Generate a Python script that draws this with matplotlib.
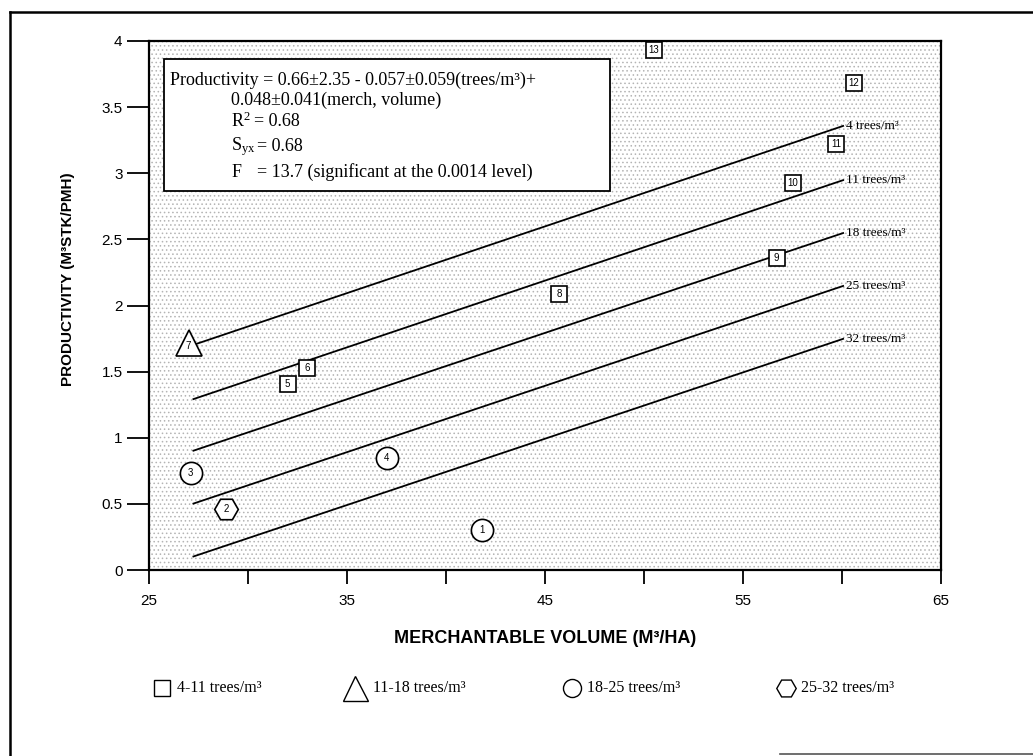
import matplotlib
matplotlib.use('Agg')
import matplotlib.pyplot as plt
from matplotlib.patches import Rectangle
from matplotlib.lines import Line2D

plt.rcParams['mathtext.fontset'] = 'custom'
plt.rcParams['mathtext.rm'] = 'Liberation Serif'
plt.rcParams['mathtext.it'] = 'Liberation Serif:italic'
plt.rcParams['hatch.linewidth'] = 0.6

# ---------------- data ----------------
point_ids = [1, 2, 3, 4, 5, 6, 7, 8, 9, 10, 11, 12, 13]
volume = [41.8, 28.9, 27.1, 37.0, 32.0, 33.0, 27.0, 45.7, 56.7, 57.5, 59.7, 60.6, 50.5]
productivity = [0.30, 0.46, 0.73, 0.85, 1.41, 1.53, 1.72, 2.09, 2.36, 2.93, 3.22, 3.68, 3.93]
density_class = ['18-25', '25-32', '18-25', '18-25', '4-11', '4-11', '11-18',
                 '4-11', '4-11', '4-11', '4-11', '4-11', '4-11']

class_names = ['4-11', '11-18', '18-25', '25-32']
class_markers = {'4-11': 's', '11-18': '^', '18-25': 'o', '25-32': 'H'}
class_sizes = {'4-11': 11, '11-18': 19, '18-25': 16, '25-32': 17}
legend_sizes = {'4-11': 12, '11-18': 18, '18-25': 13, '25-32': 14}

line_density = [4, 11, 18, 25, 32]
line_x = [27.2, 60.1]
line_start = [1.70, 1.29, 0.90, 0.50, 0.10]
line_end = [3.36, 2.95, 2.55, 2.15, 1.75]

x_ticks = [25, 30, 35, 40, 45, 50, 55, 60, 65]
x_ticklabels = ['25', '', '35', '', '45', '', '55', '', '65']
y_ticks = [0, 0.5, 1, 1.5, 2, 2.5, 3, 3.5, 4]
y_ticklabels = ['0', '0.5', '1', '1.5', '2', '2.5', '3', '3.5', '4']

# ---------------- figure ----------------
W, H = 1033, 756
fig = plt.figure(figsize=(W / 100, H / 100), dpi=100)
L, R, T, B = 149, 941, 41, 570
ax = fig.add_axes([L / W, 1 - B / H, (R - L) / W, (B - T) / H])

ax.set_xlim(25, 65)
ax.set_ylim(0, 4)

# stippled background
ax.set_facecolor('white')
ax.add_patch(Rectangle((0, 0), 1, 1, transform=ax.transAxes, fill=False,
                       hatch='....', edgecolor='#b4b4b4', linewidth=0, zorder=0))

# regression lines
for d, y0, y1 in zip(line_density, line_start, line_end):
    ax.plot(line_x, [y0, y1], color='black', lw=1.3, zorder=2, solid_capstyle='butt')
    ax.text(line_x[1] + 0.1, y1, f'{d} trees/m³', fontsize=9.5,
            family='Liberation Serif', ha='left', va='center', zorder=5)

# points
for pid, v, p, c in zip(point_ids, volume, productivity, density_class):
    ax.plot([v], [p], marker=class_markers[c], ms=class_sizes[c],
            mfc='white', mec='black', mew=1.2, ls='none', zorder=4, clip_on=False)
    dy = -0.03 if c == '11-18' else 0
    ax.text(v, p + dy, str(pid), fontsize=7, family='Liberation Sans',
            ha='center', va='center', zorder=6)

# equation box
ax.add_patch(Rectangle((0.019, 0.716), 0.563, 0.25, transform=ax.transAxes,
                       facecolor='white', edgecolor='black', lw=1.3, zorder=7))
tf = dict(fontsize=13, family='Liberation Serif', transform=ax.transAxes,
          va='center', ha='left', zorder=8)
ax.text(0.026, 0.925, 'Productivity = 0.66±2.35 - 0.057±0.059(trees/m³)+', **tf)
ax.text(0.103, 0.888, '0.048±0.041(merch, volume)', **tf)
ax.text(0.104, 0.848, r'R$^2$', **tf)
ax.text(0.132, 0.848, '= 0.68', **tf)
ax.text(0.104, 0.800, r'S$_{\mathrm{yx}}$', **tf)
ax.text(0.136, 0.800, '= 0.68', **tf)
ax.text(0.104, 0.752, 'F', **tf)
ax.text(0.136, 0.752, '= 13.7 (significant at the 0.0014 level)', **tf)

# axes styling
for s in ax.spines.values():
    s.set_linewidth(1.6)
ax.set_xticks(x_ticks)
ax.set_xticklabels(x_ticklabels)
ax.set_yticks(y_ticks)
ax.set_yticklabels(y_ticklabels)
ax.tick_params(axis='x', direction='out', length=10, width=1.3, pad=7,
               labelsize=11)
ax.tick_params(axis='y', direction='out', length=16, width=1.3, pad=3,
               labelsize=11)
for lab in ax.get_xticklabels() + ax.get_yticklabels():
    lab.set_family('Liberation Sans')

ax.set_xlabel('MERCHANTABLE VOLUME (M³/HA)', fontsize=13, fontweight='bold',
              family='Liberation Sans', labelpad=16)
ylab = ax.set_ylabel('PRODUCTIVITY (M³STK/PMH)', fontsize=11, fontweight='bold',
                     family='Liberation Sans')
ylab.set_va('center')
ax.yaxis.set_label_coords(-0.102, 0.55)

# legend (manual row)
leg_y = 1 - 688 / H
leg_marker_x = [162, 355, 572, 786]
leg_text_x = [177, 373, 587, 801]
for c, mx, tx in zip(class_names, leg_marker_x, leg_text_x):
    fig.add_artist(Line2D([mx / W], [leg_y], transform=fig.transFigure,
                          marker=class_markers[c], ms=legend_sizes[c],
                          mfc='white', mec='black', mew=1.0, ls='none'))
    fig.text(tx / W, leg_y, f'{c} trees/m³', fontsize=11.5,
             family='Liberation Serif', va='center', ha='left')

# outer frame of the scanned page
fig.add_artist(Line2D([10 / W, 1.0], [1 - 12 / H, 1 - 12 / H],
                      transform=fig.transFigure, color='black', lw=1.8))
fig.add_artist(Line2D([10 / W, 10 / W], [1 - 12 / H, 0.0],
                      transform=fig.transFigure, color='black', lw=1.8))
fig.add_artist(Line2D([780 / W, 1.0], [2 / H, 2 / H],
                      transform=fig.transFigure, color='#555555', lw=1.2))

fig.savefig('out.png', dpi=100)
